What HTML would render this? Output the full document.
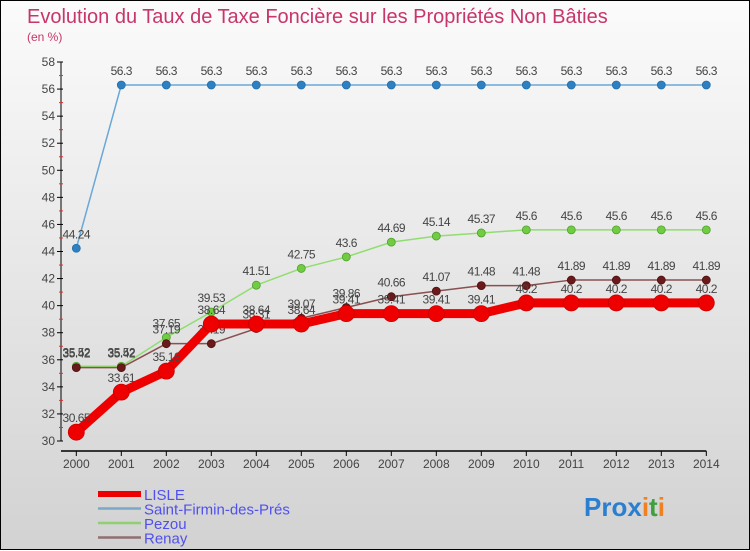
<!DOCTYPE html>
<html><head><meta charset="utf-8"><style>
html,body{margin:0;padding:0}
body{width:750px;height:550px;overflow:hidden;font-family:"Liberation Sans",sans-serif}
#wrap{position:relative;width:748px;height:548px;border:1px solid #000;background:linear-gradient(#fbfbfb,#d2d2d2)}
svg{position:absolute;left:0;top:0}
</style></head><body>
<div id="wrap">
<svg id="chart" width="750" height="550">
<text x="26" y="22" font-size="20" fill="#c8356a">Evolution du Taux de Taxe Foncière sur les Propriétés Non Bâties</text>
<text x="26" y="40" font-size="12" fill="#c8356a">(en %)</text>
<g id="axes"></g><g id="series"></g><g id="legend"></g>
<g font-size="26" font-weight="bold" font-family="Liberation Sans,sans-serif">
<text x="583" y="515"><tspan fill="#2a7fd0">Pro</tspan><tspan fill="#2a7fd0">x</tspan><tspan fill="#f08020">i</tspan><tspan fill="#40a040">t</tspan><tspan fill="#f08020">i</tspan></text>
</g>
</svg></div>
<script>
const years=[2000,2001,2002,2003,2004,2005,2006,2007,2008,2009,2010,2011,2012,2013,2014];
const lisle=[30.65,33.61,35.16,38.64,38.64,38.64,39.41,39.41,39.41,39.41,40.2,40.2,40.2,40.2,40.2];
const stFirmin=[44.24,56.3,56.3,56.3,56.3,56.3,56.3,56.3,56.3,56.3,56.3,56.3,56.3,56.3,56.3];
const pezou=[35.52,35.52,37.65,39.53,41.51,42.75,43.6,44.69,45.14,45.37,45.6,45.6,45.6,45.6,45.6];
const renay=[35.42,35.42,37.19,37.19,38.31,39.07,39.86,40.66,41.07,41.48,41.48,41.89,41.89,41.89,41.89];
const yTicks=[30,32,34,36,38,40,42,44,46,48,50,52,54,56,58];
const NS='http://www.w3.org/2000/svg';
const xs=i=>75.3+i*45;
const ys=v=>440-(v-30)*(379/28);
function mk(t,a,p){const e=document.createElementNS(NS,t);for(const k in a)e.setAttribute(k,a[k]);p.appendChild(e);return e;}
const ax=document.getElementById('axes');
let l=mk('line',{x1:60,y1:ys(58),x2:60,y2:440,stroke:'#000','stroke-width':1},ax);


l=mk('line',{x1:60,y1:450,x2:xs(14),y2:450,stroke:'#000','stroke-width':1.5},ax);


yTicks.forEach(v=>{
 mk('line',{x1:56,y1:ys(v),x2:62,y2:ys(v),stroke:'#000'},ax);
 if(v<58) mk('line',{x1:58,y1:ys(v+1),x2:62,y2:ys(v+1),stroke:'#e03030'},ax);
 const t=mk('text',{x:54,y:ys(v)+4,'text-anchor':'end','font-size':12,fill:'#444'},ax);
 t.textContent=v;
 
 
});
years.forEach((y,i)=>{
 mk('line',{x1:xs(i),y1:450,x2:xs(i),y2:455,stroke:'#000'},ax);
 const t=mk('text',{x:xs(i),y:467,'text-anchor':'middle','font-size':12,fill:'#444'},ax);
 t.textContent=y;
 
 
});
const sg=document.getElementById('series');
function draw(data,name,color,w,r,dot,edge){
 const g=mk('g',{},sg);
 
 
 mk('polyline',{points:data.map((v,i)=>xs(i)+','+ys(v)).join(' '),fill:'none',stroke:color,'stroke-width':w,'stroke-linejoin':'round'},g);
 data.forEach((v,i)=>{
  const c=mk('circle',{cx:xs(i),cy:ys(v),r:r,fill:dot,stroke:edge,'stroke-width':0.8},g);
  
  
  const t=mk('text',{x:xs(i),y:ys(v)-10,'text-anchor':'middle','font-size':12,fill:'#444','letter-spacing':'-0.5'},g);
  t.textContent=v;
  
  
 });
}
draw(stFirmin,'saint-firmin','#6aa8d8',1.5,4,'#2f80c0','#2070b0');
draw(pezou,'pezou','#90dd70',1.5,4,'#70cc40','#50a030');
draw(renay,'renay','#8a5050',1.5,4,'#6a1a1a','#501010');
draw(lisle,'lisle','#ee0000',9,8,'#ee0000','#cc0000');
const lg=document.getElementById('legend');
const items=[['LISLE','#ee0000',6],['Saint-Firmin-des-Prés','#7aa8c8',2.5],['Pezou','#90d070',2.5],['Renay','#907070',2.5]];
items.forEach((it,i)=>{
 const y=493+i*14.5;
 const g=mk('g',{},lg);
 
 
 mk('line',{x1:97,y1:y,x2:140,y2:y,stroke:it[1],'stroke-width':it[2]},g);
 const t=mk('text',{x:143,y:y+6,'font-size':15,fill:'#5050ee'},g);
 t.textContent=it[0];
});
</script>
</body></html>
